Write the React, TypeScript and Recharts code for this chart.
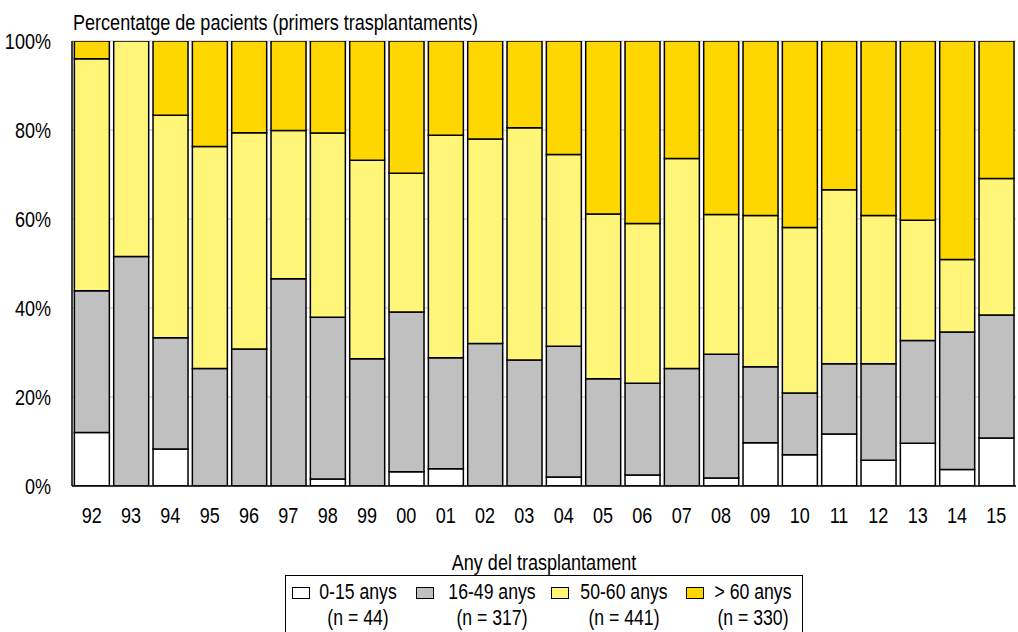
import React from 'react';
import { BarChart, Bar, XAxis, YAxis, CartesianGrid, Legend } from 'recharts';

const years = ['92', '93', '94', '95', '96', '97', '98', '99', '00', '01', '02', '03', '04', '05', '06', '07', '08', '09', '10', '11', '12', '13', '14', '15'];
const age0to15 = [12.0, 0, 8.3, 0, 0, 0, 1.6, 0, 3.2, 3.9, 0, 0, 2.0, 0, 2.5, 0, 1.8, 9.7, 7.0, 11.7, 5.8, 9.6, 3.7, 10.8];
const age16to49 = [31.9, 51.6, 25.0, 26.4, 30.8, 46.6, 36.3, 28.6, 35.9, 24.9, 32.0, 28.3, 29.4, 24.1, 20.6, 26.4, 27.8, 17.1, 13.9, 15.8, 21.7, 23.1, 30.9, 27.6];
const age50to60 = [52.1, 48.4, 50.0, 49.9, 48.6, 33.3, 41.4, 44.6, 31.2, 50.0, 46.0, 52.2, 43.1, 37.0, 35.9, 47.2, 31.4, 34.0, 37.2, 39.1, 33.3, 27.0, 16.3, 30.7];
const ageOver60 = [4.0, 0, 16.7, 23.7, 20.6, 20.1, 20.7, 26.8, 29.7, 21.2, 22.0, 19.5, 25.5, 38.9, 41.0, 26.4, 39.0, 39.2, 41.9, 33.4, 39.2, 40.3, 49.1, 30.9];

const yTicks = [0, 20, 40, 60, 80, 100];
const seriesKeys = ['a', 'b', 'c', 'd'];
const seriesNames = ['0-15 anys', '16-49 anys', '50-60 anys', '> 60 anys'];
const seriesCounts = [44, 317, 441, 330];
const seriesColors = ['#ffffff', '#c0c0c0', '#fff578', '#ffd700'];

const titleText = 'Percentatge de pacients (primers trasplantaments)';
const xAxisTitle = 'Any del trasplantament';

const data = years.map((year, i) => ({
  year,
  a: age0to15[i],
  b: age16to49[i],
  c: age50to60[i],
  d: ageOver60[i],
}));

const FONT = "'Liberation Sans', Arial, sans-serif";
const NARROW = 0.82;

// legend item placement inside the box (px from the box's left edge)
const swatchLeft = [7, 131, 266, 401];
const textCenter = [73.5, 207, 339, 468];

const YTick = (props: any) => {
  const { x, y, payload } = props;
  return (
    <text
      transform={`translate(${x},${y}) scale(${NARROW},1)`}
      textAnchor="end"
      dy="0.355em"
      fontSize={22}
      fontFamily={FONT}
      fill="#000"
    >
      {`${payload.value}%`}
    </text>
  );
};

const XTick = (props: any) => {
  const { x, y, payload } = props;
  return (
    <text
      transform={`translate(${x},${y}) scale(${NARROW},1)`}
      textAnchor="middle"
      dy="0.71em"
      fontSize={22}
      fontFamily={FONT}
      fill="#000"
    >
      {payload.value}
    </text>
  );
};

const XLabel = (props: any) => {
  const vb = props.viewBox || {};
  const cx = vb.x + vb.width / 2;
  const y = vb.y + vb.height - 3;
  return (
    <text
      transform={`translate(${cx},${y}) scale(${NARROW},1)`}
      textAnchor="middle"
      fontSize={22}
      fontFamily={FONT}
      fill="#000"
    >
      {xAxisTitle}
    </text>
  );
};

const LegendBox = () => (
  <div
    style={{
      position: 'relative',
      boxSizing: 'border-box',
      width: 518,
      height: 59,
      border: '1.5px solid #000',
      background: '#fff',
      fontFamily: FONT,
      fontSize: 21.5,
      lineHeight: '26px',
      color: '#000',
    }}
  >
    {seriesNames.map((name, i) => (
      <React.Fragment key={name}>
        <div
          style={{
            position: 'absolute',
            boxSizing: 'border-box',
            left: swatchLeft[i] - 1.5,
            top: 10.5,
            width: 18,
            height: 12,
            border: '1.3px solid #000',
            background: seriesColors[i],
          }}
        />
        <div
          style={{
            position: 'absolute',
            left: textCenter[i] - 1.5 - 100,
            top: 2.5,
            width: 200,
            textAlign: 'center',
            whiteSpace: 'nowrap',
            transform: `scaleX(${NARROW})`,
            transformOrigin: 'center',
          }}
        >
          <div>{name}</div>
          <div>{`(n = ${seriesCounts[i]})`}</div>
        </div>
      </React.Fragment>
    ))}
  </div>
);

export default function App() {
  return (
    <div style={{ position: 'absolute', left: 0, top: 0, width: 1018, height: 632, background: '#fff' }}>
      <div
        style={{
          position: 'absolute',
          left: 73,
          top: 12,
          fontFamily: FONT,
          fontSize: 22,
          lineHeight: '22px',
          color: '#000',
          whiteSpace: 'nowrap',
          transform: `scaleX(${NARROW})`,
          transformOrigin: 'left center',
        }}
      >
        {titleText}
      </div>
      <BarChart
        width={1018}
        height={632}
        data={data}
        margin={{ top: 41, right: 2, bottom: 0, left: 0 }}
        barCategoryGap="6%"
        style={{ fontFamily: FONT }}
      >
        <CartesianGrid vertical={false} stroke="#d6d6d6" strokeWidth={1.5} />
        <XAxis
          dataKey="year"
          height={87}
          tickLine={false}
          tickSize={6}
          tickMargin={15}
          interval={0}
          axisLine={{ stroke: '#000', strokeWidth: 1.5 }}
          tick={<XTick />}
          label={<XLabel />}
        />
        <XAxis
          xAxisId="top"
          orientation="top"
          dataKey="year"
          height={0}
          tick={false}
          tickLine={false}
          axisLine={{ stroke: '#000', strokeWidth: 1.5 }}
        />
        <YAxis
          width={72}
          domain={[0, 100]}
          allowDataOverflow
          ticks={yTicks}
          tickLine={false}
          tickSize={6}
          tickMargin={15}
          axisLine={{ stroke: '#000', strokeWidth: 1.5 }}
          tick={<YTick />}
        />
        <YAxis
          yAxisId="right"
          orientation="right"
          width={0}
          domain={[0, 100]}
          tick={false}
          tickLine={false}
          axisLine={{ stroke: '#000', strokeWidth: 1.5 }}
        />
        <Legend
          verticalAlign="bottom"
          align="left"
          wrapperStyle={{ left: 285, bottom: -2 }}
          content={() => <LegendBox />}
        />
        {seriesKeys.map((key, i) => (
          <Bar
            key={key}
            dataKey={key}
            name={seriesNames[i]}
            stackId="s"
            fill={seriesColors[i]}
            stroke="#000"
            strokeWidth={1.5}
            isAnimationActive={false}
          />
        ))}
      </BarChart>
    </div>
  );
}
